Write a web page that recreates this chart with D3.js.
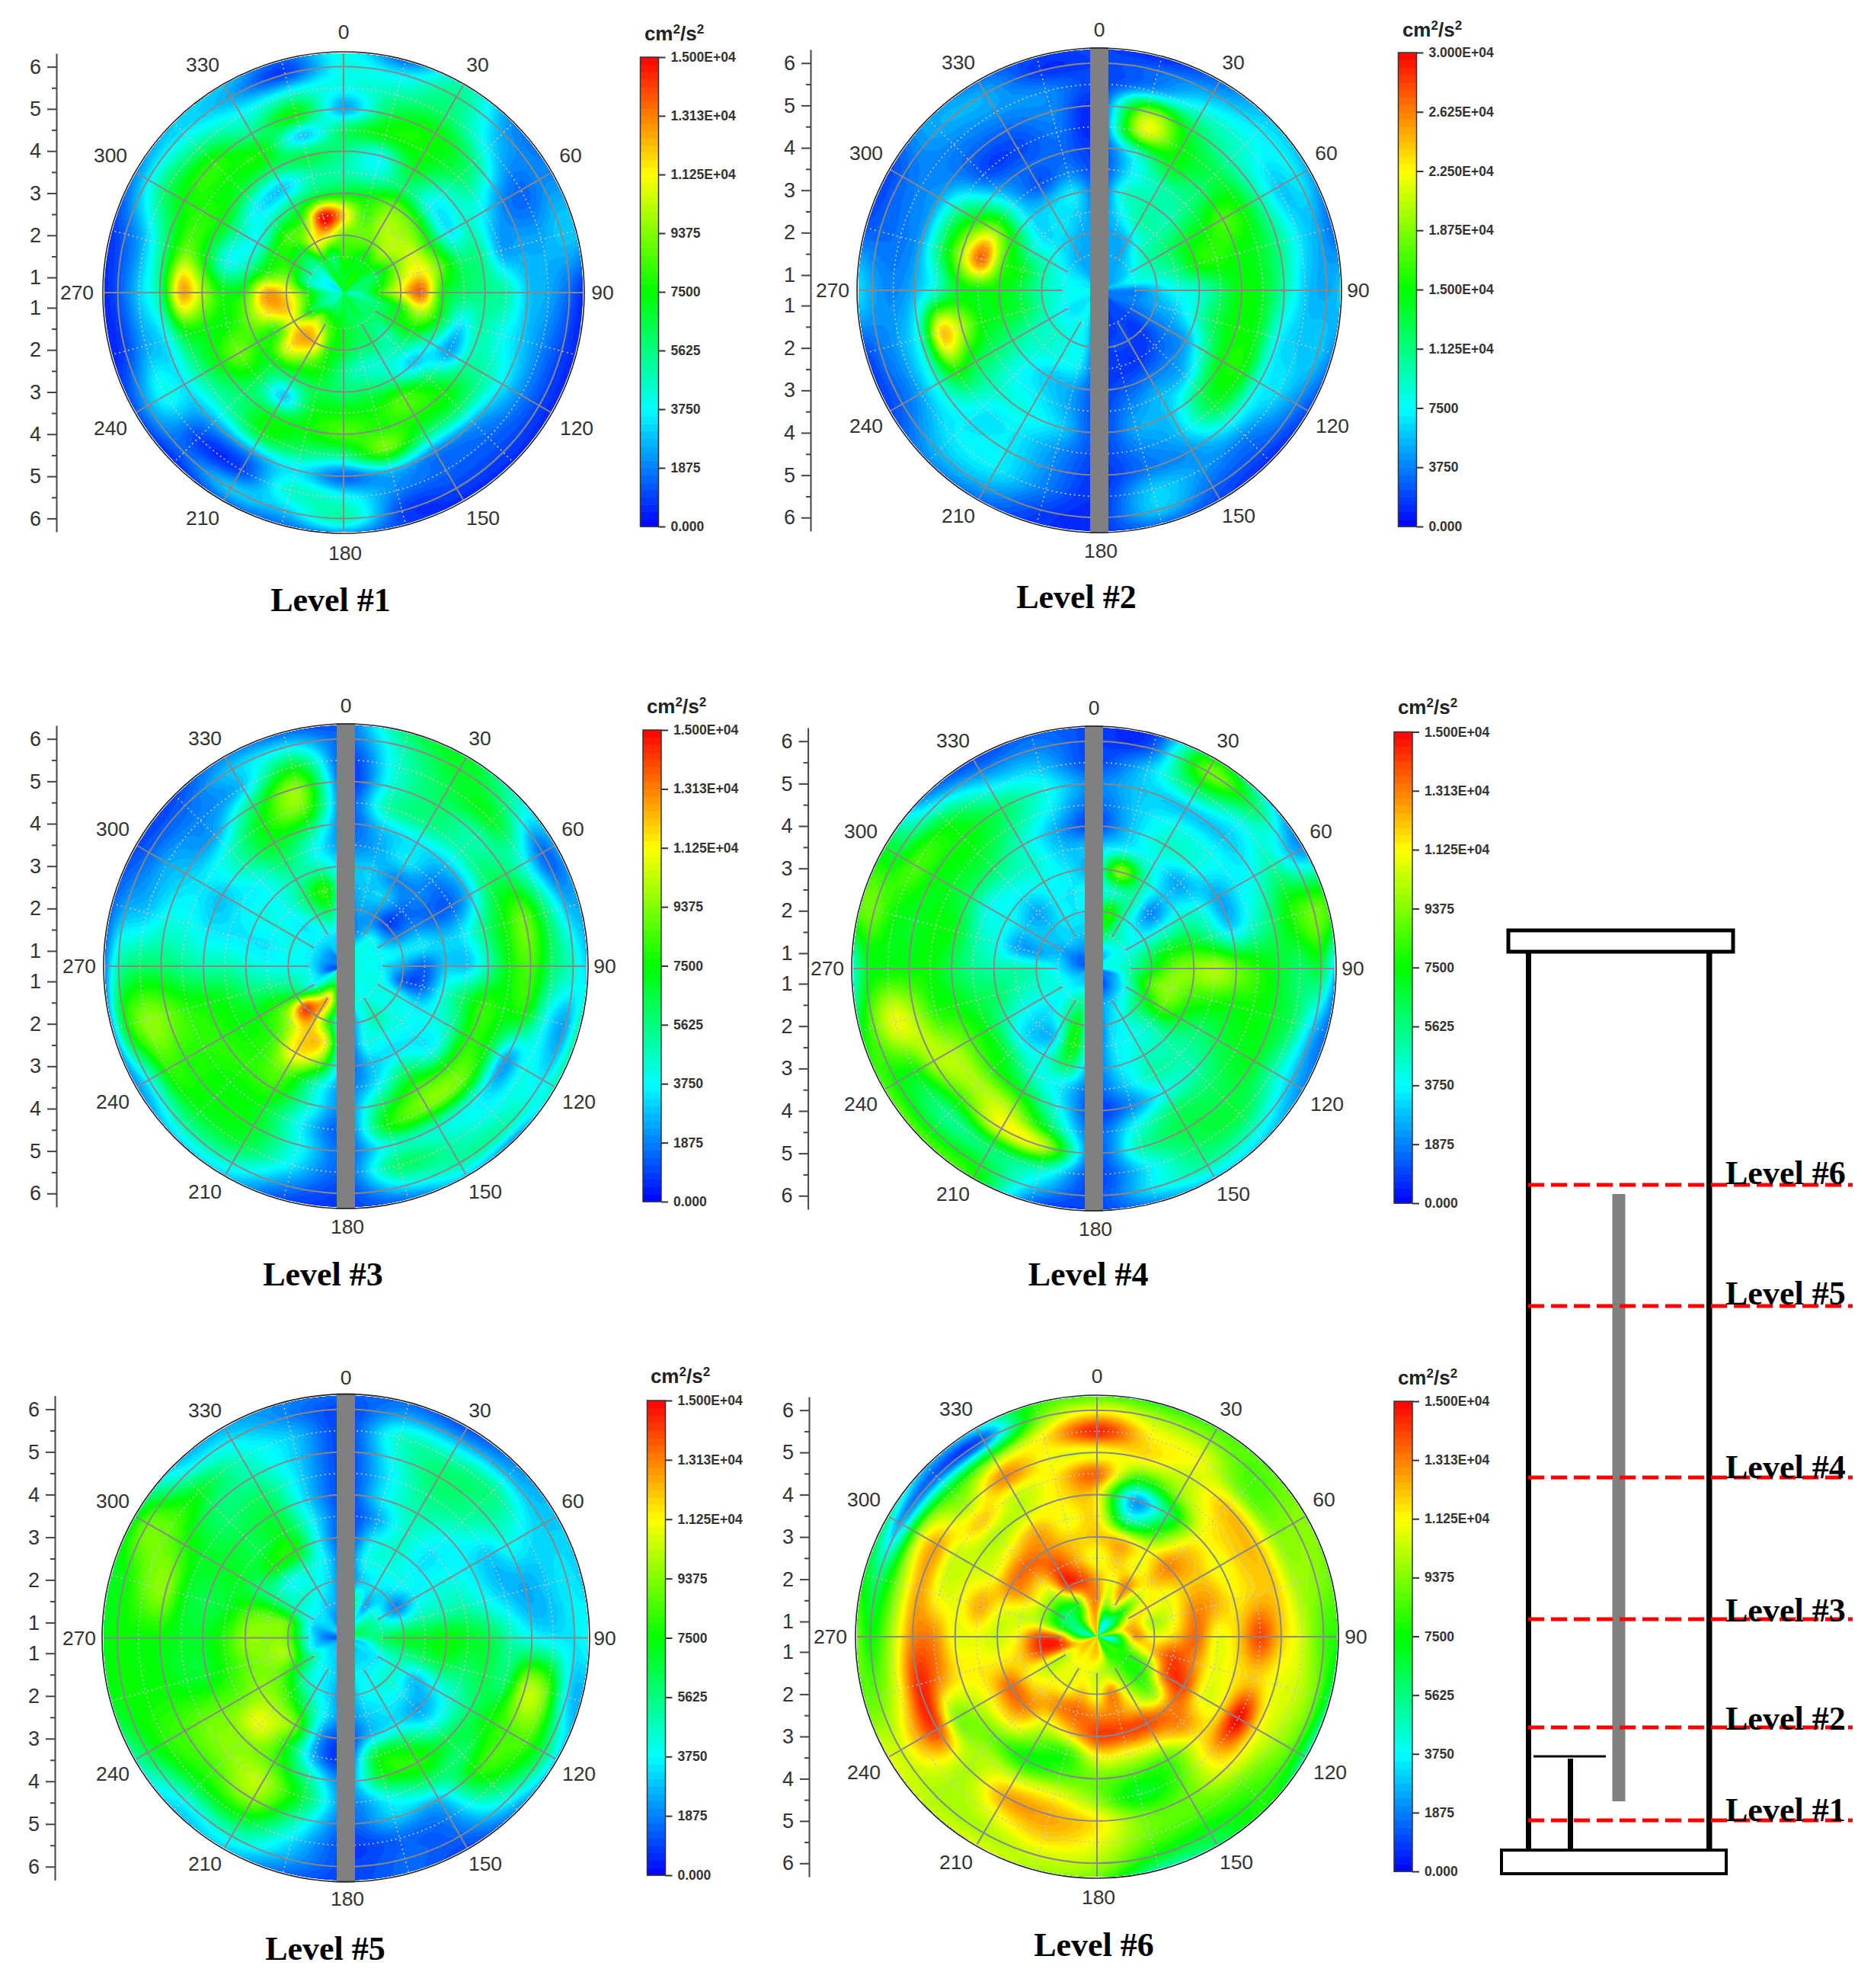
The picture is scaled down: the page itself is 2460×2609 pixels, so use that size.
<!DOCTYPE html>
<html><head><meta charset="utf-8">
<script src="https://cdnjs.cloudflare.com/ajax/libs/d3/7.8.5/d3.min.js"></script>
<style>html,body{margin:0;background:#fff}svg{display:block}</style></head>
<body><svg id="c" width="2460" height="2609"></svg>
<script>
// Radial stops (one value per stop in each row); rows run 0,15,...,345 degrees. Values in 10^3 cm2/s2.
const angleStep = 15;
const radialStops = [1,1.5,2,2.5,3,3.5,4,4.5,5,5.5,6,6.4];
const level1 = [
[7,8,9,12,7,5,5.5,6,2.5,4,4,4],[7,7.5,9,8.5,7.5,4.5,4,7.5,6.5,5,3.5,1.5],[8,7,9,10,9,6,7,7.5,7.5,6,5.5,5],[7,7.5,10,10,8.5,4,4.5,6,5.5,3.5,2.5,2],
[6,6.5,9,10.5,7.5,3.5,4.5,3.5,2,1.5,2,2],[6,7,10,11.5,9,6,5.5,2.5,2.5,2.5,3,3],[5,8,11,13.5,7.5,6,5.5,5,3,2.5,1.5,.5],[5,6,7.5,10,7,3.5,5,4,3,2,1,.5],
[6,6,7,7,4.5,2.5,5,5,3.5,2,1,.5],[6,6,5,5,3,6,7.5,6,2.5,1.5,1,.5],[7,6,6,4.5,5,8.5,8,6,2,1.5,1,.5],[6,6.5,6,4.5,6,7.5,8,9,3,2,1,1],
[7,7,7,5.5,6,7.5,8.5,5.5,1.5,4,5,2],[6,8,8,7.5,6.5,7,7.5,6,3.5,4.5,3,1.5],[6,9,12,9,6,3,7,7,2.5,1,3,1.5],[5,10,12.5,11,7,6.5,6,5,2.5,1,1.5,.5],
[5,7,11,8,8,9,7.5,5.5,3.5,4,2.5,1],[5,8,12,11.5,9,7.5,7.5,7,3.5,2.5,1,.5],[5,8,11.5,12.5,8,7.5,10,12.5,5.5,3,1.2,.5],[4,5,9,8,5,4,7,9,6,3,1.5,.8],
[3.5,5,7.5,7.5,4,5,7.5,8,7.5,6,3.5,2],[4,5,7,8.5,5,3.5,6.5,7.5,8,5.5,3.5,3],[7,7,11,9,6,3,6,7.5,5.5,4,2.5,3],[7,6,11,15,7,5,6.5,3,7.5,4.5,1,1.5]];
const level2 = [
[5,5,5,4,3,2,2,2,2,2,2,2],[5,5,5,7,9,7,9,21,19,5,3,1],[5,5,6,10,10,10,14,15,13,8.5,5,3],[5,6,9,10,10,11,12,13,10,8.5,7,6],
[5,7,10,12,14,15,17,15,10,6,7,5],[6,8,9,11,15,16,15,14,11,7,5,3],[4,4,6,8,9,12,15,14,10,6,5,6],[3.5,4,5,6,9,13,15,14,7.5,6,6,4],
[3.5,3,3.5,4,5,10,15,15,8,6.5,4,2],[2,2,1.5,2.5,4,6,12,13,8,4,2.5,1],[2,2,2,1.5,3.5,5.5,6,6,4.5,4.5,3,2],[1.5,1.5,2,1.5,2.5,4,5,4,3.5,6,6,3],
[2,2,2,2,2,2,2,2,1.5,1.5,1.5,1.5],[6,6,7,7,5,5,6,4.5,4,3.5,2,1.5],[7,8,8,8,6,7,8,7,7,7,5,3],[7,7,9,9,8,8,9,7.5,7,7,5.5,4],
[7,7,9,10,11,12,13,15,9,5,3,2],[7.5,8,10,13,14,15,20,24,9,5,3.5,2],[8,8,10,13,15,15,14,9,5.5,4,5,7],[7,8,10,14,17,27,20,12,5,3.5,3,2.5],
[7,7,9,10,15,19,15,10,5,4,3,2],[6,6,7,6.5,7,7,5,2.5,3,4,5,5],[5,5,6,7,6,2.5,3,2,3,4.5,5,3.5],[5,5,5,6,7,4,3,3.5,4,4,1.5,2]];
const level3 = [
[1,1,2,3,3,2,1.5,1.5,1,1,1.5,1.5],[3,2,2.5,3,3,2.5,3,5,4.5,4.5,5,6],[4,3,2,3,2,3.5,3.5,5.5,6,6.5,7,7],[4,4,1,1.5,2,2,3,5,5,7,5.5,4.5],
[4,3.5,2,2,1.5,1.5,3,6,6,4,1.5,2.5],[4,4,3.5,3.5,3,3.5,5.5,7.5,9,6,3,2.5],[4,3.5,2.5,1.5,3,3,5,7.5,8.5,6,4.5,3],[4,4,1.5,1.5,4,6,8,7.5,7.5,4,2.5,5.5],
[4,4,4,3.5,4,5,8,7,2.5,4,3.5,5],[4,4,4,4,3.5,4,8,9,4,4,5,2],[4,4,5,4,3.5,6,8.5,9,4.5,5,5,3],[4,4,3.5,4,3,3.5,6,7.5,4.5,6,3.5,1.5],
[1.5,2,2,2,2,2,2,1.5,1.5,1.5,1,1],[3,8,7,11,9,5,4.5,3.5,4,3.5,2,1],[5,12,12,12,11.5,9,8,7,7,6.5,4.5,3],[5,8,14,10,8.5,8,8,7.5,7.5,7,5,3],
[4,4,7,8,7.5,7.5,8,8,8,8,4,2],[1.5,4,5,5.5,6,7,7.5,8,9,9.5,7.5,2],[1.5,3.5,4,4,4.5,5,5,5.5,6,6,5,1.5],[2,3.5,4,3.5,3.5,3.5,3.5,4,4,3,2.5,1.5],
[2,3.5,4,4,4,3.5,3,3.5,3,2.5,1.5,1],[2,3.5,3.5,4,4,4,5,4.5,2.5,2,1.5,1],[3,3.5,5,6,5,6,7,7.5,6,3,3,2],[2,3.5,6,8,5,4,6,9,9.5,7,3.5,1.5]];
const level4 = [
[1.5,3,4,4,3,3,1,1.5,2,1,1,1],[3,6,8,4.5,9.5,4,3,3,3,3,1.5,1],[3,5,5,5,5,4,4.5,4,3,6,9,7.5],[3,4.5,3.5,2,3,2.5,4,4,3,4,6,4],
[4,4,4,4,4.5,4,2.5,3.5,4,5,3,2],[4,4.5,6,7,7,5.5,3.5,4.5,6,8,9,8.5],[4,5,7,9,9.5,10,9,8,7,6,6.5,2.5],[2,5,8.5,9.5,8.5,8,7.5,7.5,7,6,3,1.5],
[2,4,7,8.5,7,6,6.5,7,7,5,3,2],[1.5,3.5,5.5,5,5,5,5,6,6.5,6.5,4.5,3],[1,3,4,4,4.5,5,4,6,6.5,6,5,3],[1,2.5,3,3.5,3.5,3,2,4,5,3.5,3.5,2],
[1,1.5,1.5,2,2,1.5,1,1.5,1.5,1,1,1],[3,5,7,7.5,6,3.5,4,6,10,5,3,1.5],[3,5,5,3,4,4.5,7,10,11,6,7,8],[3,4,3.5,3,3.5,6.5,8,10,8.5,5.5,7,9],
[3,4,4,4,5,7,8.5,10,10,7.5,7.5,9],[2.5,4,4.5,5,6,6.5,7.5,8,10,11,9,7],[2,3.5,4.5,5,5,5.5,6.5,7.5,7.5,7.5,7,4],[1.5,3,2.5,2.5,4,5,7,7.5,7,7.5,9,9],
[1.5,2.5,3,3,4,4,6,7,7.5,8.5,7,7],[1.5,3,3,2.5,3.5,4.5,6,7,7.5,7,4,2],[2,3,3.5,3.5,4,4.5,4.5,5.5,6,4,2,1],[2,3,3.5,3.5,3.5,3,2.5,3.5,4,3,2,1.5]];
const level5 = [
[2,1.5,1.5,1.5,1,1,1,1,1,1,1,1.5],[3,5,3,4,3.5,2.5,3.5,3.5,4,4.5,2.5,1.5],[4,2.5,3.5,4,4.5,4.5,5,5.5,6,5,2.5,1],[5,4,3,4,3.5,3.5,4,5,5.5,5.5,3,2],
[6,4.5,2,3.5,4,4,3.5,3,4,3.5,3,3],[6,5,4.5,5,5,5,4,3,2.5,3,3.5,3],[5,6,7,7,7.5,7,6.5,5,4,3.5,3.5,4],[3,5,5.5,6,6.5,6,6.5,6,10,9,3.5,2.5],
[3.5,3.5,4.5,3,3.5,4.5,6,7.5,8.5,8.5,6,3],[3,3.5,4.5,3.5,2.5,4,6.5,6,8,6.5,4,2],[3,3.5,4,3.5,3.5,6.5,8,6,3,2,1.5,1],[2.5,3.5,3.5,3,3,7,7,4,3,1.5,1.5,1.5],
[2,2,2,2,1,1,2,2,1.5,1,1,1],[2.5,3,3,3.5,2.5,2.5,5,6.5,5,3.5,2.5,1.5],[3,3.5,4,6,9,8,8.5,10,9.5,7,4.5,3],[3,4,5,8,10,11,9.5,9.5,8.5,7,4,3],
[3,5,7.5,9,9.5,9,9,9,8.5,8,6.5,5],[2.5,4,9.5,9.5,9,8,7,7,7.5,7.5,7.5,7],[1.5,4,9,9.5,9.5,8,7,7,7.5,7.5,7.5,7],[2,3.5,8.5,9,8.5,7,6.5,7,9.5,9,7.5,7],
[3,3.5,5,5.5,6,7,7,7,8,9,9,7],[3,3.5,4.5,4,7.5,6.5,6.5,6,6,7,4.5,3],[2,3,4,4.5,7.5,7,6.5,6,5,4.5,3.5,2.5],[1.5,2.5,3,3.5,3.5,3.5,3,3,3,3,2,2]];
const level6 = [
[12,13,12.5,11,12,11.5,11.5,13.5,11,14.5,11,8.5],[6,10,11,12,12,5,2.5,8,11.5,11.5,10,8],[4,11,13,11,11,8,6,9.5,10.5,11,9.5,8.5],[5,8,10.5,12,13,12,11,11.5,12,9,8.5,9],
[7,11,11.5,11,12,12,11,12,12,9.5,9.5,9.5],[10,12.5,10,11,13,12.5,11.5,12,12,10,9.5,9],[5,12.5,11,12,13.5,11,12,14,12,10.5,8.5,8],[5,10,12,14,13,11,11.5,12,11,10.5,9,6],
[8,8,9,13.5,14,11,11.5,15,11.5,10,8.5,5],[8,8,8,9.5,13,13,11.5,12,11,9,8,8],[8,9,10,11.5,14,11.5,8.5,8.5,9,8.5,7,6],[11,10,13,13,14,11,8.5,7,9,9,7.5,5],
[12,10.5,11,13,14,11,9,9.5,11.5,11,10,9],[12,11,12,13.5,12,8,8.5,11,12.5,12,10.5,10],[11.5,11,11,13,11,9,7.5,10.5,12.5,11,10,11],[12,11,11,12,13,11.5,9,10,10,10,10,10.5],
[12,10.5,10.5,11.5,13.5,11.5,10,9.5,14,12.5,10.5,11],[11,14,14,12,11.5,11.5,11.5,13,14.5,11,9,9],[7,13,14,11.5,10.5,11,11,13,13,10,7.5,9.5],[5,7.5,10,10.5,11,12.5,11,11,12.5,9.5,6,7.5],
[6,6,9.5,12,13,11,10.5,10.5,12.5,10,2.5,6],[8,6.5,10,12,13.5,11.5,10,12,10,8,1.5,3],[11,8,14,14,13,12.5,10.5,10.5,13,9.5,1.5,4],[12,12,14,12.5,12,11,11.5,11.5,11,11.5,9,8]];
const levelData = [level1,level2,level3,level4,level5,level6];
const levelTitles = ["Level #1","Level #2","Level #3","Level #4","Level #5","Level #6"];
const levelMax = [15,30,15,15,15,15];
const barLabels15 = ["0.000","1875","3750","5625","7500","9375","1.125E+04","1.313E+04","1.500E+04"];
const barLabels30 = ["0.000","3750","7500","1.125E+04","1.500E+04","1.875E+04","2.250E+04","2.625E+04","3.000E+04"];
const angleLabels = [0,30,60,90,120,150,180,210,240,270,300,330];
const radialTicks = [1,2,3,4,5,6];
const towerLevels = [2389,2267,2125,1939,1714,1555];
const towerLabelBase = [2390,2270,2128,1940,1712,1554];

// layout
const labelOffset = {0:[0,-342],30:[176,-299],60:[298,-180],90:[340,0],120:[306,178],150:[183,296],180:[2,342],210:[-185,296],240:[-306,178],270:[-350,0],300:[-306,-180],330:[-185,-299]};
const panels = [
 {cx:451,cy:384,R:314,ax:74,bx:840.5,by0:75,by1:691,ux:885,uy:53,tx:434,ty:802,bar:false},
 {cx:1443,cy:381,R:316,ax:1064,bx:1835.5,by0:69,by1:691,ux:1880,uy:48,tx:1413,ty:798,bar:true},
 {cx:454,cy:1268,R:316,ax:74,bx:844,by0:958,by1:1577,ux:888,uy:936,tx:424,ty:1687,bar:true},
 {cx:1436,cy:1271,R:316,ax:1060.6,bx:1830,by0:960.5,by1:1579,ux:1874,uy:937,tx:1428.6,ty:1687,bar:true},
 {cx:454,cy:2149.6,R:318,ax:72,bx:849.5,by0:1838,by1:2461,ux:893,uy:1815,tx:427,ty:2572,bar:true},
 {cx:1440,cy:2148,R:315,ax:1062,bx:1830,by0:1839,by1:2456,ux:1874,uy:1817,tx:1436,ty:2567,bar:false}];
const svg = d3.select("#c");
const SANS = "'Liberation Sans',Arial,sans-serif", SERIF = "'Liberation Serif','Times New Roman',serif";
const NLEV = 64, KA = 8, KR = 5, vMin = 0.64;
const jet = d3.scaleLinear().domain([0,.25,.5,.75,1]).range(["#0000ff","#00ffff","#00ff00","#ffff00","#ff0000"]).interpolate(d3.interpolateRgb);
const cr = (a,b,c,d,t)=>0.5*(2*b+(c-a)*t+(2*a-5*b+4*c-d)*t*t+(3*b-a-3*c+d)*t*t*t);

function fineGrid(rows,max){
  const n=rows.length, rr=rows[0].length+1, W=n*KA+1, H=(rr-1)*KR+1, out=new Float64Array(W*H);
  const at=(i,j)=>rows[((i%n)+n)%n][Math.max(0,Math.min(rr-2,j-1))];
  for(let y=0;y<H;y++){const jf=y/KR,j=Math.min(Math.floor(jf),rr-2),tj=jf-j;
    for(let x=0;x<W;x++){const fi=x/KA,i=Math.floor(fi),ti=fi-i,col=[];
      for(let a=-1;a<=2;a++) col.push(cr(at(i+a,j-1),at(i+a,j),at(i+a,j+1),at(i+a,j+2),tj));
      out[y*W+x]=Math.max(0,Math.min(max,cr(col[0],col[1],col[2],col[3],ti)));}}
  return {out,W,H};
}
const idxToV = d3.scaleLinear().domain(d3.range(13)).range([vMin].concat(radialStops)).clamp(true);

panels.forEach((p,idx)=>{
  const rows=levelData[idx], max=levelMax[idx];
  const rScale=d3.scaleLinear().domain([vMin,6]).range([0,0.1761*p.R*(6-vMin)]);
  const g=svg.append("g").attr("transform",`translate(${p.cx},${p.cy})`);
  const clipId="clip"+idx;
  svg.append("clipPath").attr("id",clipId).append("circle").attr("r",p.R);
  const heat=g.append("g").attr("clip-path",`url(#${clipId})`);
  heat.append("circle").attr("r",p.R).attr("fill",jet(0.5/NLEV));
  const {out,W,H}=fineGrid(rows,max);
  const thresholds=d3.range(1,NLEV).map(i=>i*max/NLEV);
  const contours=d3.contours().size([W,H]).thresholds(thresholds)(out);
  const proj=d3.geoTransform({point(x,y){
    const th=(x-0.5)/KA*angleStep*Math.PI/180, v=idxToV((y-0.5)/KR), r=rScale(v);
    this.stream.point(r*Math.sin(th),-r*Math.cos(th));}});
  const path=d3.geoPath(proj);
  heat.selectAll("path.band").data(contours).join("path").attr("class","band")
    .attr("d",path).attr("fill",d=>jet((d.value/max)+0.5/NLEV));
  // grid
  const grid=g.append("g").attr("fill","none");
  [1.5,2.5,3.5,4.5,5.5].forEach(v=>grid.append("circle").attr("r",rScale(v)).attr("stroke","#c4c4c4").attr("stroke-width",1.6).attr("stroke-dasharray","2 4"));
  d3.range(15,360,30).forEach(a=>{const t=a*Math.PI/180,r0=rScale(2),r1=p.R;
    grid.append("line").attr("x1",r0*Math.sin(t)).attr("y1",-r0*Math.cos(t)).attr("x2",r1*Math.sin(t)).attr("y2",-r1*Math.cos(t)).attr("stroke","#c4c4c4").attr("stroke-width",1.6).attr("stroke-dasharray","2 4");});
  radialTicks.slice(1).forEach(v=>grid.append("circle").attr("r",rScale(v)).attr("stroke","#888").attr("stroke-width",2));
  angleLabels.forEach(a=>{const t=a*Math.PI/180,r0=rScale(1.5),r1=p.R;
    grid.append("line").attr("x1",r0*Math.sin(t)).attr("y1",-r0*Math.cos(t)).attr("x2",r1*Math.sin(t)).attr("y2",-r1*Math.cos(t)).attr("stroke","#888").attr("stroke-width",2);});
  if(p.bar) g.append("rect").attr("x",-12).attr("width",24).attr("y",-p.R-3).attr("height",2*p.R+6).attr("fill","#808080");
  g.append("circle").attr("r",p.R+2).attr("fill","none").attr("stroke","#222").attr("stroke-width",1.6);
  // angle labels
  g.selectAll("text.ang").data(angleLabels).join("text").attr("class","ang")
    .attr("x",d=>labelOffset[d][0]).attr("y",d=>labelOffset[d][1])
    .attr("text-anchor","middle").attr("dominant-baseline","central")
    .attr("font-family",SANS).attr("font-size",26.5).attr("fill","#333").text(d=>d);
  // radial axes
  const rmax=(p.R)/(0.1761*p.R)+vMin;
  const upper=d3.scaleLinear().domain([vMin,rmax]).range([p.cy,p.cy-p.R]);
  const lower=d3.scaleLinear().domain([vMin,rmax]).range([p.cy,p.cy+p.R]);
  [upper,lower].forEach(sc=>{
    const a=svg.append("g").attr("transform",`translate(${p.ax},0)`);
    a.call(d3.axisLeft(sc).tickValues(radialTicks).tickFormat(d3.format("d")).tickSize(12).tickSizeOuter(0).tickPadding(8));
    const minor=svg.append("g").attr("transform",`translate(${p.ax},0)`);
    minor.call(d3.axisLeft(sc).tickValues([1.5,2.5,3.5,4.5,5.5]).tickFormat("").tickSize(6).tickSizeOuter(0));
    minor.select(".domain").remove();
    a.selectAll("text").attr("font-family",SANS).attr("font-size",27).attr("fill","#333");
    [a,minor].forEach(s=>s.selectAll("line,path").attr("stroke","#444").attr("stroke-width",2));
  });
  // colour bar
  const bs=d3.scaleLinear().domain([0,max]).range([p.by1,p.by0]);
  const bw=24;
  svg.append("g").selectAll("rect").data(d3.range(NLEV)).join("rect")
    .attr("x",p.bx).attr("width",bw).attr("y",d=>bs((d+1)*max/NLEV)).attr("height",d=>bs(d*max/NLEV)-bs((d+1)*max/NLEV)+0.6)
    .attr("fill",d=>jet((d+0.5)/NLEV));
  svg.append("rect").attr("x",p.bx).attr("y",p.by0).attr("width",bw).attr("height",p.by1-p.by0).attr("fill","none").attr("stroke","#333").attr("stroke-width",1.5);
  const labels=max===30?barLabels30:barLabels15;
  const bv=d3.range(9).map(i=>i*max/8);
  const ba=svg.append("g").attr("transform",`translate(${p.bx+bw},0)`)
    .call(d3.axisRight(bs).tickValues(bv).tickFormat((d,i)=>labels[i]).tickSize(9).tickSizeOuter(0).tickPadding(7));
  ba.select(".domain").remove();
  ba.selectAll("line").attr("stroke","#333").attr("stroke-width",2);
  ba.selectAll("text").attr("font-family",SANS).attr("font-size",17.5).attr("font-weight",700).attr("fill","#333");
  const u=svg.append("text").attr("x",p.ux).attr("y",p.uy).attr("text-anchor","middle").attr("font-family",SANS).attr("font-weight",700).attr("font-size",26).attr("fill","#222");
  u.append("tspan").text("cm");
  u.append("tspan").attr("dy",-9).attr("font-size",17).text("2");
  u.append("tspan").attr("dy",9).text("/s");
  u.append("tspan").attr("dy",-9).attr("font-size",17).text("2");
  svg.append("text").attr("x",p.tx).attr("y",p.ty).attr("text-anchor","middle").attr("font-family",SERIF).attr("font-weight",700).attr("font-size",44).attr("fill","#000").text(levelTitles[idx]);
});

// tower sketch
const t=svg.append("g");
t.append("rect").attr("x",1980).attr("y",1221).attr("width",295).attr("height",28).attr("fill","#fff").attr("stroke","#000").attr("stroke-width",5);
t.append("rect").attr("x",2116.5).attr("y",1567).attr("width",17).attr("height",797).attr("fill","#808080");
t.append("rect").attr("x",2003).attr("y",1251).attr("width",7).attr("height",1175);
t.append("rect").attr("x",2240).attr("y",1251).attr("width",7.5).attr("height",1175);
t.append("rect").attr("x",2013).attr("y",2303.5).attr("width",95).attr("height",3);
t.append("rect").attr("x",2058).attr("y",2308).attr("width",7).attr("height",118);
t.append("rect").attr("x",1971).attr("y",2428).attr("width",295).attr("height",31).attr("fill","#fff").attr("stroke","#000").attr("stroke-width",4);
towerLevels.forEach((y,i)=>{
  t.append("line").attr("x1",2006).attr("x2",2432).attr("y1",y).attr("y2",y).attr("stroke","#ff0000").attr("stroke-width",5).attr("stroke-dasharray","21 9");
  t.append("text").attr("x",2265).attr("y",towerLabelBase[i]).attr("font-family",SERIF).attr("font-weight",700).attr("font-size",44).attr("fill","#000").text(levelTitles[i]);
});
</script></body></html>
